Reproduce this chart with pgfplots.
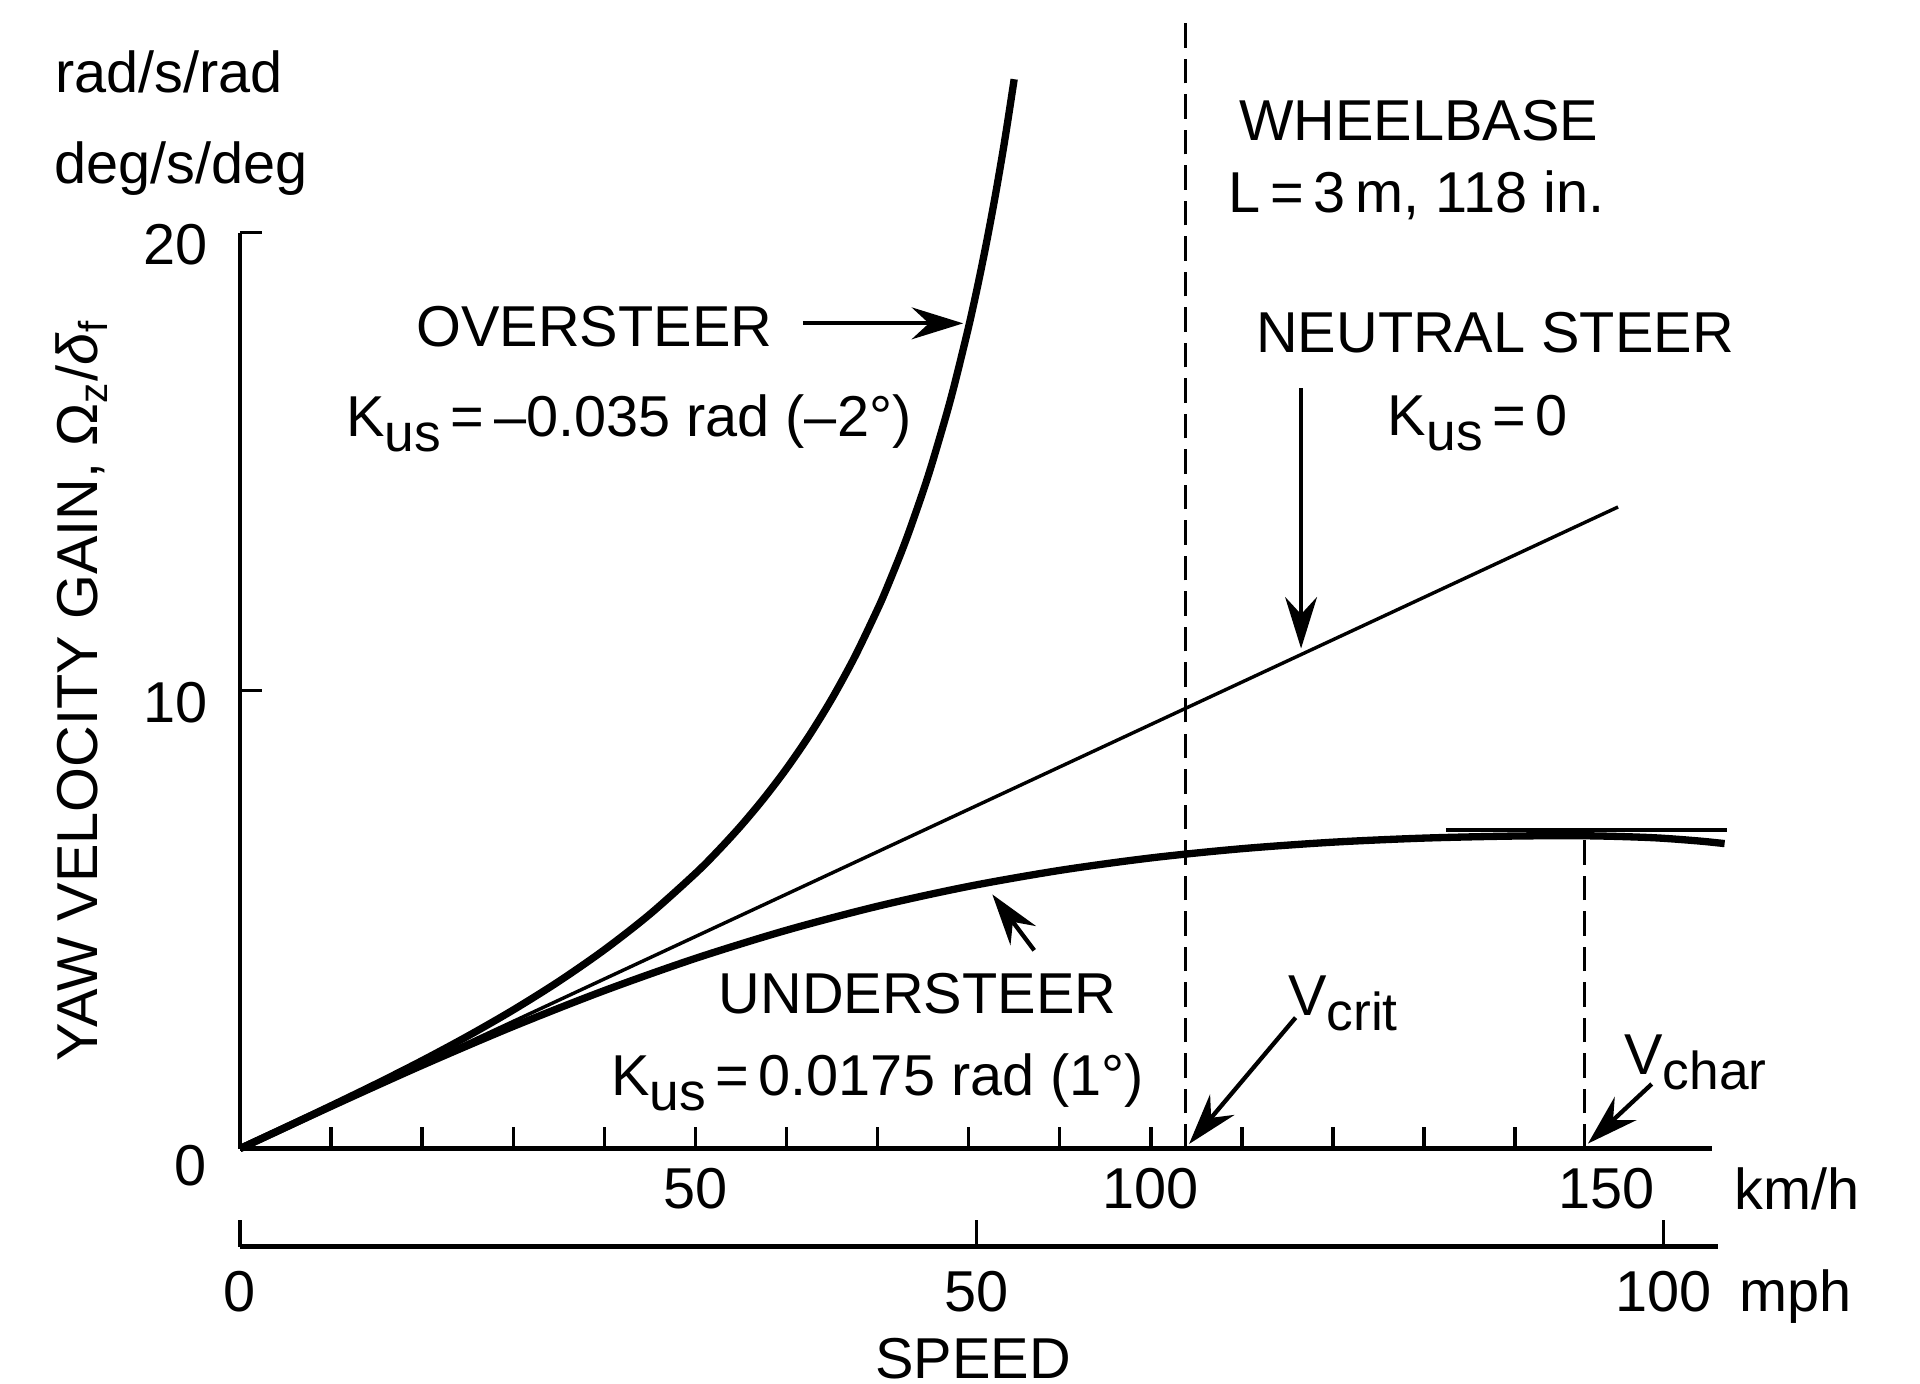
\documentclass[border=0pt]{standalone}
\usepackage{fontspec}
\setmainfont{Liberation Sans}
\usepackage{pgfplots}
\pgfplotsset{compat=1.18}
\usetikzlibrary{arrows.meta}

\newcommand{\lo}[1]{\raisebox{-0.26em}{\fontsize{12.4pt}{14pt}\selectfont #1}}

\begin{document}
\begin{tikzpicture}[font=\fontsize{13.4pt}{16pt}\selectfont,
  every node/.append style={inner sep=0pt},
  arr/.style={line width=1.0pt, -{Stealth[length=4.2mm,width=2.6mm,inset=1.4mm]}}]
\begin{axis}[
  at={(0,0)}, anchor=south west,
  scale only axis, width=12.02cm, height=7.48cm,
  xmin=0, xmax=161.6, ymin=0, ymax=20,
  axis x line=bottom, axis y line=left,
  axis line style={-, line width=1.1pt},
  tick align=inside, major tick length=0.18cm,
  every tick/.style={black, line width=0.8pt},
  xtick={10,20,...,140}, xticklabels={,,,,50,,,,,100,,,,},
  extra x ticks={147.6}, extra x tick labels={150},
  extra x tick style={xticklabel style={xshift=0.18cm}},
  xticklabel style={anchor=base, inner sep=0pt, yshift=-0.49cm},
  ytick={0,10,20}, yticklabels={,10,20},
  yticklabel style={anchor=base east, inner sep=0pt, xshift=-0.26cm, yshift=-0.26cm},
  clip=false,
]
% oversteer
\addplot[black, line width=1.7pt, smooth, line join=round] coordinates {
(0,0) (5,0.464) (10,0.935) (15,1.418) (20,1.922) (25,2.456) (30,3.028)
(35,3.651) (40,4.341) (45,5.118) (50,6.008) (52.5,6.507) (55,7.049)
(57.5,7.643) (60,8.296) (62.5,9.020) (65,9.829) (67.5,10.740) (70,11.777)
(71,12.232) (72.5,12.967) (73.5,13.495) (75,14.352) (76,14.973) (77.5,15.987)
(78.5,16.726) (80,17.947) (81,18.846) (82,19.824) (83,20.891) (84,22.062) (85,23.351)};
% neutral steer
\addplot[black, line width=0.8pt] coordinates {(0,0) (151.3,14.01)};
% understeer
\addplot[black, line width=1.7pt, smooth, line join=round] coordinates {
(0,0) (10,0.922) (20,1.819) (30,2.668) (40,3.450) (50,4.153) (60,4.768)
(70,5.292) (80,5.726) (90,6.075) (100,6.347) (110,6.549) (120,6.691)
(130,6.780) (140,6.825) (148,6.83) (155,6.79) (160,6.72) (163,6.66)};
% tangent at maximum
\addplot[black, line width=1.0pt] coordinates {(132.4,6.96) (163.3,6.96)};
% V_crit, V_char
\addplot[black, line width=0.6pt, dash pattern=on 0.2cm off 0.09cm] coordinates {(103.8,0) (103.8,24.76)};
\addplot[black, line width=0.6pt, dash pattern=on 0.2cm off 0.09cm] coordinates {(147.6,0) (147.6,6.85)};

% arrows
\draw[arr] (axis cs:61.8,18.02) -- (axis cs:79.4,18.02);
\draw[arr] (axis cs:116.5,16.60) -- (axis cs:116.5,10.92);
\draw[arr] (axis cs:87.2,4.33) -- (axis cs:82.6,5.55);
\draw[arr] (axis cs:115.9,2.86) -- (axis cs:104.2,0.10);
\draw[arr] (axis cs:155.0,1.41) -- (axis cs:148.0,0.11);

% texts
\node[anchor=base east] at (axis cs:-3.6,-0.80) {0};
\node[anchor=base] at (axis cs:129.4,22.02) {WHEELBASE};
\node[anchor=base] at (axis cs:129.2,20.45) {L\,=\,3\,m, 118 in.};
\node[anchor=base] at (axis cs:38.9,17.51) {OVERSTEER};
\node[anchor=base] at (axis cs:42.7,15.55) {K\lo{us}\,=\,–0.035 rad (–2°)};
\node[anchor=base] at (axis cs:137.8,17.38) {NEUTRAL STEER};
\node[anchor=base] at (axis cs:135.9,15.58) {K\lo{us}\,=\,0};
\node[anchor=base] at (axis cs:74.4,2.95) {UNDERSTEER};
\node[anchor=base] at (axis cs:70.0,1.17) {K\lo{us}\,=\,0.0175 rad (1°)};
\node[anchor=base] at (axis cs:121.1,2.9) {V\lo{crit}};
\node[anchor=base] at (axis cs:159.8,1.62) {V\lo{char}};
\node[anchor=base west] at (axis cs:-20.4,23.05) {rad/s/rad};
\node[anchor=base west] at (axis cs:-20.5,21.07) {deg/s/deg};
\node[anchor=base] at (axis cs:171.0,-1.34) {km/h};
\node[anchor=base] at (axis cs:170.8,-3.56) {mph};
\node[anchor=base] at (axis cs:80.5,-5.01) {SPEED};
\node[rotate=90, anchor=base] at (axis cs:-15.6,10.0) {YAW VELOCITY GAIN, Ω\textsubscript{z}/\textit{δ}\textsubscript{f}};
\end{axis}

\begin{axis}[
  at={(0,-0.8cm)}, anchor=south west,
  scale only axis, width=12.07cm, height=1cm,
  xmin=0, xmax=162.2, ymin=0, ymax=1,
  axis x line=bottom, axis y line=none,
  axis line style={-, line width=1.1pt},
  tick align=inside, major tick length=0.22cm,
  every tick/.style={black, line width=0.8pt},
  xtick={0,80.8,156.2}, xticklabels={0,50,100},
  xticklabel style={anchor=base, inner sep=0pt, yshift=-0.53cm},
]
\end{axis}
\pgfresetboundingbox
\path[use as bounding box] (-1.96cm,-1.92cm) rectangle (13.72cm,9.38cm);
\end{tikzpicture}
\end{document}
